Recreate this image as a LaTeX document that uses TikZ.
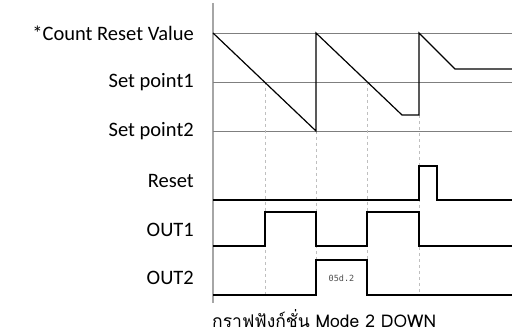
\documentclass[tikz,border=0pt]{standalone}
\usepackage{fontspec}
\setmainfont{Carlito}
\newfontfamily\thaifont[Script=Thai]{Loma}
\newfontfamily\segfont{DejaVu Sans Mono}
\usetikzlibrary{positioning}
\definecolor{gridgray}{HTML}{7F7F7F}
\definecolor{axisgray}{HTML}{A6A6A6}
\definecolor{guidegray}{HTML}{BFBFBF}
\tikzset{
  lbl/.style={anchor=east,inner sep=0pt,font=\fontsize{20.5}{22}\selectfont},
  refline/.style={gridgray,line width=0.7pt},
  sig/.style={black,line width=1.2pt,line join=miter},
  guide/.style={guidegray,dashed,line width=0.7pt},
  axisline/.style={axisgray,line width=1.2pt},
  seg/.style={font=\segfont\fontsize{8.5}{9}\selectfont,text=black!70},
}
\begin{document}
\begin{tikzpicture}[x=1pt,y=-1pt]
        \useasboundingbox (0,0) rectangle (512,336);
        % labels
        \node[lbl] (crv) at (194,33)  {*Count Reset Value};
        \node[lbl] (sp1) at (194,82)  {Set point1};
        \node[lbl] (sp2) at (194,131) {Set point2};
        \node[lbl] (rst) at (194,181) {Reset};
        \node[lbl] (o1)  at (194,230) {OUT1};
        \node[lbl] (o2)  at (194,278) {OUT2};
        % axis and levels
        \draw[axisline] (213,3) -- (213,303);
        \foreach \y in {33,82,131} \draw[refline] (213,\y) -- (512,\y);
        % guides
        \foreach \x/\y in {265/82,316/131,367/82,419/115} \draw[guide] (\x,\y) -- (\x,295);
        % counter
        \draw[sig] (213,33) -- (316,131) -- (316,33) -- (402,115) -- (419,115)
              -- (419,33) -- (455,69) -- (512,69);
        % outputs
        \draw[sig] (213,200) -- (419,200) -- (419,166) -- (437,166) -- (437,200) -- (512,200);
        \draw[sig] (213,246) -- (265,246) -- (265,212) -- (316,212) -- (316,246)
              -- (367,246) -- (367,212) -- (419,212) -- (419,246) -- (512,246);
        \draw[sig] (213,295) -- (316,295) -- (316,260) -- (367,260) -- (367,295) -- (512,295);
        \node[seg] (dly) at (341.5,278) {05d.2};
        \node[anchor=base west,inner sep=0pt,font=\thaifont\fontsize{17.5}{19}\selectfont] (cap) at (212,328)
              {กราฟฟังก์ชั่น Mode 2 DOWN};
      \end{tikzpicture}
\end{document}
